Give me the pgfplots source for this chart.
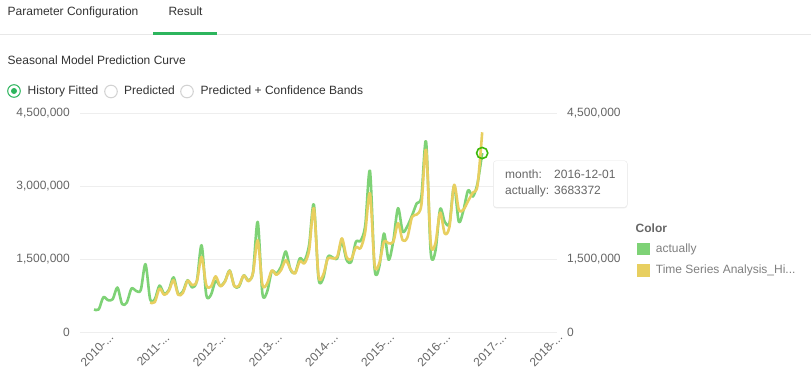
\documentclass[border=0pt]{standalone}
\usepackage{pgfplots}
\pgfplotsset{compat=1.18}
\usepackage{pgfplotstable}
\usepackage{fontspec}
\setmainfont{Liberation Sans}
\usetikzlibrary{shadows}
\definecolor{cgreen}{RGB}{126,210,118}
\definecolor{cyellow}{RGB}{232,207,96}
\definecolor{tabgreen}{RGB}{45,181,93}
\definecolor{txt}{RGB}{51,51,51}
\definecolor{tickc}{RGB}{102,102,102}
\definecolor{legc}{RGB}{128,128,128}
\definecolor{gridc}{RGB}{238,238,238}
\definecolor{sepc}{RGB}{232,232,232}
\definecolor{hover}{RGB}{60,185,10}
\definecolor{radiog}{RGB}{210,210,210}
\newcommand\dd{.\kern0pt.\kern0pt.}

\pgfplotstableread{
m actual
0 470000
1 470000
2 720000
3 660000
4 680000
5 920000
6 580000
7 610000
8 900000
9 850000
10 870000
11 1400000
12 680000
13 680000
14 960000
15 790000
16 870000
17 1130000
18 790000
19 840000
20 1070000
21 920000
22 1060000
23 1790000
24 770000
25 770000
26 1060000
27 950000
28 1050000
29 1270000
30 950000
31 940000
32 1170000
33 1070000
34 1230000
35 2270000
36 800000
37 830000
38 1250000
39 1210000
40 1350000
41 1660000
42 1290000
43 1220000
44 1520000
45 1470000
46 1800000
47 2630000
48 1110000
49 1110000
50 1550000
51 1540000
52 1520000
53 1860000
54 1490000
55 1450000
56 1860000
57 1880000
58 2200000
59 3320000
60 1300000
61 1350000
62 2030000
63 1490000
64 1880000
65 2550000
66 2070000
67 2180000
68 2400000
69 2650000
70 2790000
71 3920000
72 1640000
73 1670000
74 2530000
75 2270000
76 2240000
77 3010000
78 2270000
79 2510000
80 2920000
81 2790000
82 3060000
83 3683372
}\actualtable

\pgfplotstableread{
m fitted
12 610000
13 620000
14 900000
15 770000
16 850000
17 1070000
18 770000
19 810000
20 1060000
21 970000
22 1050000
23 1550000
24 970000
25 940000
26 1150000
27 950000
28 1040000
29 1260000
30 950000
31 960000
32 1170000
33 1050000
34 1220000
35 1890000
36 980000
37 1000000
38 1270000
39 1180000
40 1280000
41 1480000
42 1300000
43 1210000
44 1460000
45 1420000
46 1690000
47 2550000
48 1160000
49 1180000
50 1520000
51 1520000
52 1550000
53 1930000
54 1550000
55 1500000
56 1750000
57 1730000
58 2070000
59 2860000
60 1380000
61 1420000
62 1860000
63 1830000
64 1860000
65 2240000
66 1890000
67 1950000
68 2370000
69 2420000
70 2620000
71 3750000
72 1830000
73 1830000
74 2460000
75 2030000
76 2170000
77 3030000
78 2520000
79 2520000
80 2700000
81 2870000
82 3020000
83 4110000
}\fittedtable

\begin{document}
\fontsize{12bp}{14bp}\selectfont
\begin{tikzpicture}[x=1bp,y=1bp,
  lbl/.style={inner sep=0pt, text height=8.6bp, text depth=2.4bp, font=\fontsize{12bp}{14bp}\selectfont}]
\path[use as bounding box, fill=white] (0,0) rectangle (811,373);

% header tabs
\node[lbl, anchor=west, text=txt] at (7.5,360.3) {Parameter Configuration};
\node[lbl, anchor=west, text=txt] at (168.3,360.3) {Result};
\fill[sepc] (0,337.5) rectangle (811,338.5);
\fill[tabgreen] (153,338.3) rectangle (217,341.3);
\node[lbl, anchor=west, text=txt] at (7.5,312) {Seasonal Model Prediction Curve};

% radio buttons
\draw[tabgreen, line width=1bp, fill=white] (14,282) circle (6.3);
\fill[tabgreen] (14,282) circle (3);
\node[lbl, anchor=west, text=txt] at (27.5,282) {History Fitted};
\draw[radiog, line width=1bp, fill=white] (111,281.5) circle (6.3);
\node[lbl, anchor=west, text=txt] at (124,282) {Predicted};
\draw[radiog, line width=1bp, fill=white] (187,281.5) circle (6.3);
\node[lbl, anchor=west, text=txt] at (200.5,282) {Predicted + Confidence Bands};

% main axis
\begin{axis}[
  at={(80bp,40.7bp)}, anchor=south west,
  scale only axis, width=477bp, height=219bp,
  xmin=-3, xmax=99, ymin=0, ymax=4500000,
  axis line style={draw=none},
  major tick length=0pt,
  ymajorgrids, grid style={gridc, line width=1bp},
  ytick={0,1500000,3000000,4500000},
  yticklabels={0,{1,500,000},{3,000,000},{4,500,000}},
  yticklabel style={anchor=east, xshift=-6bp, text=tickc, font=\fontsize{12bp}{14bp}\selectfont},
  xtick={0,12,24,36,48,60,72,84,96},
  xticklabels={{2010-\dd},{2011-\dd},{2012-\dd},{2013-\dd},{2014-\dd},{2015-\dd},{2016-\dd},{2017-\dd},{2018-\dd}},
  xticklabel style={xshift=3bp, yshift=-17.5bp, rotate=45, anchor=center, text=tickc, font=\fontsize{12bp}{14bp}\selectfont},
  scaled y ticks=false,
  clip=false,
]
\addplot[cgreen, line width=2.6bp, smooth, tension=0.5, line join=round] table[x=m, y=actual] {\actualtable};
\addplot[cyellow, line width=2.6bp, smooth, tension=0.5, line join=round] table[x=m, y=fitted] {\fittedtable};
\addplot[only marks, mark=o, mark size=5.6bp, mark options={draw=hover, line width=1.6bp}] coordinates {(83,3683372)};
\end{axis}

% right axis labels
\begin{axis}[
  at={(80bp,40.7bp)}, anchor=south west,
  scale only axis, width=477bp, height=219bp,
  xmin=-3, xmax=99, ymin=0, ymax=4500000,
  axis x line=none, axis y line*=right,
  y axis line style={draw=none},
  major tick length=0pt,
  ytick={0,1500000,3000000,4500000},
  yticklabels={0,{1,500,000},{3,000,000},{4,500,000}},
  yticklabel style={anchor=west, xshift=6bp, text=tickc, font=\fontsize{12bp}{14bp}\selectfont},
  scaled y ticks=false,
]
\addplot[draw=none] coordinates {(0,0)};
\end{axis}

% tooltip
\draw[rounded corners=3bp, draw=sepc, fill=white, drop shadow={shadow xshift=0bp, shadow yshift=-1bp, opacity=0.15}] (493.3,165.7) rectangle (627.3,212.3);
\node[lbl, anchor=west, text=tickc] at (505,198) {month:};
\node[lbl, anchor=west, text=tickc] at (554,198) {2016-12-01};
\node[lbl, anchor=west, text=tickc] at (505,181.3) {actually:};
\node[lbl, anchor=west, text=tickc] at (554,181.3) {3683372};

% legend
\node[lbl, anchor=west, text=tickc, font=\fontsize{12bp}{14bp}\selectfont\bfseries] at (635.5,144) {Color};
\fill[cgreen] (636.7,117.8) rectangle (650,130);
\node[lbl, anchor=west, text=legc] at (655.7,124) {actually};
\fill[cyellow] (636.7,96.3) rectangle (650,108.7);
\node[lbl, anchor=west, text=legc] at (655.7,102.7) {Time Series Analysis\_Hi...};
\end{tikzpicture}
\end{document}
